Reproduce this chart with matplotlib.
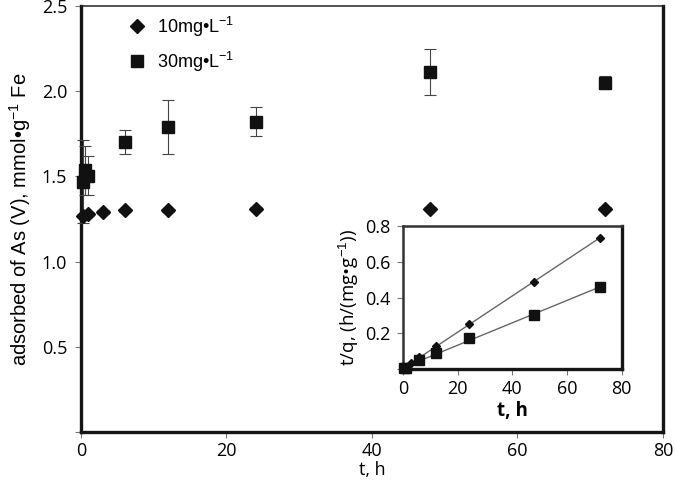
import numpy as np
import matplotlib.pyplot as plt
from matplotlib.lines import Line2D

plt.rcParams['mathtext.fontset'] = 'custom'
plt.rcParams['mathtext.rm'] = 'Liberation Sans'
plt.rcParams['mathtext.it'] = 'Liberation Sans'

# main plot data
t_10 = [0.25, 1, 3, 6, 12, 24, 48, 72]
q_10 = [1.27, 1.28, 1.29, 1.30, 1.30, 1.31, 1.31, 1.31]
e_10 = [0.01, 0.01, 0.01, 0.01, 0.01, 0.01, 0.01, 0.01]

t_30 = [0.25, 0.5, 1, 6, 12, 24, 48, 72]
q_30 = [1.47, 1.535, 1.505, 1.70, 1.79, 1.82, 2.11, 2.05]
e_30 = [0.245, 0.145, 0.115, 0.07, 0.16, 0.085, 0.135, 0.04]

# inset (pseudo second order) data
ti_10 = [0.5, 1, 3, 6, 12, 24, 48, 72]
tq_10 = [0.005, 0.01, 0.035, 0.067, 0.128, 0.25, 0.49, 0.733]
ti_30 = [0.5, 1, 6, 12, 24, 48, 72]
tq_30 = [0.004, 0.008, 0.05, 0.089, 0.172, 0.30, 0.46]

tick_font = 'Open Sans'
dark = '#111111'

fig = plt.figure(figsize=(6.75, 4.8), dpi=100)
ax = fig.add_axes([0.12, 0.10, 0.862, 0.8875])

ax.errorbar(t_10, q_10, yerr=e_10, fmt='D', ms=7.5, color=dark, ecolor='#444444',
            elinewidth=0.8, capsize=4, capthick=0.8, clip_on=False, zorder=3)
ax.errorbar(t_30, q_30, yerr=e_30, fmt='s', ms=8, color=dark, ecolor='#444444',
            elinewidth=0.8, capsize=4, capthick=0.8, clip_on=False, zorder=3)

ax.set_xlim(0, 80)
ax.set_ylim(0, 2.5)
ax.set_xticks([0, 20, 40, 60, 80])
ax.set_yticks([0, 0.5, 1.0, 1.5, 2.0, 2.5])
ax.set_yticklabels(['', '0.5', '1.0', '1.5', '2.0', '2.5'])
for lab in ax.get_xticklabels() + ax.get_yticklabels():
    lab.set_fontfamily(tick_font)
    lab.set_fontsize(13)
ax.tick_params(direction='out', length=4, width=0.8, color='#777777', pad=6)
ax.tick_params(axis='x', pad=3)

for s in ['left', 'bottom', 'right']:
    ax.spines[s].set_linewidth(2.4)
    ax.spines[s].set_color('#151515')
ax.spines['top'].set_linewidth(1.1)
ax.spines['top'].set_color('#222222')

ax.set_xlabel('t, h', fontfamily=tick_font, fontsize=13, labelpad=1)
ax.set_ylabel('adsorbed of As (V), mmol•g$^{-1}$ Fe', fontfamily='Liberation Sans',
              fontsize=14.5, labelpad=6)

handles = [Line2D([], [], ls='none', marker='D', ms=7.5, color=dark),
           Line2D([], [], ls='none', marker='s', ms=8, color=dark)]
ax.legend(handles, ['10mg•L$^{-1}$', '30mg•L$^{-1}$'], loc='upper left',
          bbox_to_anchor=(0.05, 1.018), frameon=False,
          prop={'family': 'Liberation Sans', 'size': 13}, handletextpad=0.5,
          labelspacing=0.6, handlelength=1.2)

# inset
ins = fig.add_axes([0.597, 0.231, 0.324, 0.298])
ins.plot(ti_10, tq_10, 'D', ms=4.5, color=dark, zorder=3, clip_on=False)
ins.plot(ti_30, tq_30, 's', ms=6.5, color=dark, zorder=3, clip_on=False)
p10 = np.polyfit(ti_10, tq_10, 1)
p30 = np.polyfit(ti_30, tq_30, 1)
tl = np.array([0, 72])
ins.plot(tl, np.polyval(p10, tl), color='#666666', lw=1)
ins.plot(tl, np.polyval(p30, tl), color='#666666', lw=1)

ins.set_xlim(0, 80)
ins.set_ylim(0, 0.8)
ins.set_xticks([0, 20, 40, 60, 80])
ins.set_yticks([0, 0.2, 0.4, 0.6, 0.8])
ins.set_yticklabels(['', '0.2', '0.4', '0.6', '0.8'])
for lab in ins.get_xticklabels() + ins.get_yticklabels():
    lab.set_fontfamily(tick_font)
    lab.set_fontsize(13)
ins.tick_params(direction='out', length=4, width=0.8, color='#777777', pad=5)
ins.tick_params(axis='x', pad=4)
for s in ['bottom', 'right']:
    ins.spines[s].set_linewidth(2.4)
    ins.spines[s].set_color('#151515')
for s in ['left', 'top']:
    ins.spines[s].set_linewidth(1.8)
    ins.spines[s].set_color('#333333')
ins.set_xlabel('t, h', fontfamily=tick_font, fontsize=13.5, fontweight='bold', labelpad=2)
ins.set_ylabel('t/q, (h/(mg•g$^{-1}$))', fontfamily=tick_font, fontsize=13.5,
               labelpad=3)

fig.savefig('out.png', dpi=100)
